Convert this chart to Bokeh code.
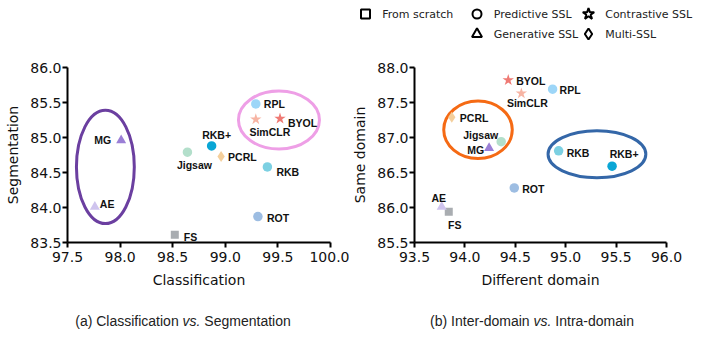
from bokeh.plotting import figure
from bokeh.models import (ColumnDataSource, Range1d, SingleIntervalTicker,
                          NumeralTickFormatter, Div)
from bokeh.layouts import column, row
from bokeh.core.properties import value
from bokeh.embed import file_html
from bokeh.resources import INLINE

# ---------------- data ----------------
methods = ["FS", "RPL", "SimCLR", "BYOL", "RKB+", "Jigsaw", "PCRL", "RKB", "ROT", "MG", "AE"]
categories = ["From scratch", "Predictive SSL", "Contrastive SSL", "Contrastive SSL",
              "Predictive SSL", "Predictive SSL", "Multi-SSL", "Predictive SSL",
              "Predictive SSL", "Generative SSL", "Generative SSL"]
classification = [98.52, 99.29, 99.29, 99.52, 98.87, 98.64, 98.96, 99.40, 99.31, 98.01, 97.76]
segmentation = [83.61, 85.48, 85.26, 85.27, 84.88, 84.79, 84.73, 84.58, 83.87, 84.96, 84.01]
different_domain = [93.84, 94.87, 94.56, 94.43, 95.46, 94.36, 93.87, 94.93, 94.49, 94.24, 93.77]
same_domain = [85.94, 87.69, 87.63, 87.82, 86.59, 86.94, 87.29, 86.81, 86.28, 86.85, 86.01]

legend_labels = ["From scratch", "Predictive SSL", "Contrastive SSL", "Generative SSL", "Multi-SSL"]

# highlight ellipses (centre, width, height in data units)
ell_a_x = [97.86, 99.51]
ell_a_y = [84.58, 85.25]
ell_a_w = [0.55, 0.77]
ell_a_h = [1.62, 0.83]
ell_b_x = [94.13, 95.31]
ell_b_y = [87.11, 86.76]
ell_b_w = [0.68, 0.97]
ell_b_h = [0.82, 0.67]

# ---------------- styles ----------------
method_colors = ["#a9adb1", "#9dd6f8", "#f7b4a3", "#ef7a74", "#0aa6d5", "#b3dfcb",
                 "#f4cf9c", "#7cd0e2", "#9dbde2", "#9b7fd6", "#cfc4ee"]
cat_marker = {"From scratch": "square", "Predictive SSL": "circle",
              "Contrastive SSL": "star", "Generative SSL": "triangle",
              "Multi-SSL": "diamond"}
marker_size = {"square": 8, "circle": 9.5, "star": 12, "triangle": 10, "diamond": 11}
ell_a_colors = ["#6b3fa0", "#ee9fe6"]
ell_b_colors = ["#f56a14", "#3467a8"]

# label placement (align, dx, dy) per method
lab_a = [("left", 9, 2), ("left", 8, 0), ("center", 14, 13), ("left", 8, 4),
         ("center", 5, -11), ("center", 7, 13), ("left", 7, 1), ("left", 9, 5),
         ("left", 9, 1), ("right", -10, 0), ("left", 5, -3)]
lab_b = [("center", 6, 13), ("left", 7, 1), ("center", 6, 10), ("left", 8, 1),
         ("center", 12, -12), ("right", -3, -7), ("left", 8, 1), ("left", 8, 2),
         ("left", 8, 1), ("right", -5, 2), ("center", -3, -9)]

TICK_FONT = "DejaVu Sans"
LAB_FONT = "Liberation Sans"
markers = [cat_marker[c] for c in categories]
sizes = [marker_size[m] for m in markers]


def make_plot(xs, ys, xr, yr, xlabel, ylabel, ex, ey, ew, eh, ecol, labs,
              width, bl, br):
    p = figure(width=width, height=252, output_backend="svg", toolbar_location=None,
               x_range=Range1d(*xr), y_range=Range1d(*yr),
               min_border_left=bl, min_border_right=br, min_border_top=19,
               min_border_bottom=58)
    p.outline_line_color = None
    p.grid.visible = False
    p.background_fill_color = "white"
    p.border_fill_color = "white"
    for ax in (p.xaxis[0], p.yaxis[0]):
        ax.ticker = SingleIntervalTicker(interval=0.5)
        ax.formatter = NumeralTickFormatter(format="0.0")
        ax.axis_line_width = 2
        ax.axis_line_color = "black"
        ax.major_tick_line_width = 2
        ax.major_tick_line_color = "black"
        ax.major_tick_out = 5
        ax.major_tick_in = 0
        ax.minor_tick_line_color = None
        ax.major_label_text_font = TICK_FONT
        ax.major_label_text_font_size = "14px"
        ax.major_label_text_color = "#111"
        ax.axis_label_text_font = TICK_FONT
        ax.axis_label_text_font_size = "14px"
        ax.axis_label_text_font_style = "normal"
        ax.axis_label_text_color = "#111"
    p.xaxis.axis_label = xlabel
    p.yaxis.axis_label = ylabel
    p.xaxis.major_label_standoff = 4
    p.xaxis.axis_label_standoff = 7
    p.yaxis.major_label_standoff = 1
    p.yaxis.axis_label_standoff = 6

    esrc = ColumnDataSource(dict(x=ex, y=ey, w=ew, h=eh, c=ecol))
    p.ellipse(x="x", y="y", width="w", height="h", source=esrc,
              fill_color=None, line_color="c", line_width=3)

    src = ColumnDataSource(dict(x=xs, y=ys, m=markers, s=sizes, c=method_colors,
                                name=methods,
                                align=[l[0] for l in labs],
                                dx=[l[1] for l in labs],
                                dy=[l[2] for l in labs]))
    p.scatter(x="x", y="y", marker="m", size="s", fill_color="c",
              line_color=None, source=src)
    p.text(x="x", y="y", text="name", x_offset="dx", y_offset="dy",
           text_align="align", text_baseline="middle", source=src,
           text_font=value(LAB_FONT), text_font_style="bold",
           text_font_size="10.5px", text_color="#111")
    return p


p1 = make_plot(classification, segmentation, (97.5, 100.0), (83.5, 86.0),
               "Classification", "Segmentation",
               ell_a_x, ell_a_y, ell_a_w, ell_a_h, ell_a_colors, lab_a,
               349, 67, 19)
p2 = make_plot(different_domain, same_domain, (93.5, 96.0), (85.5, 88.0),
               "Different domain", "Same domain",
               ell_b_x, ell_b_y, ell_b_w, ell_b_h, ell_b_colors, lab_b,
               357, 54, 40)

# ---------------- legend strip ----------------
leg = figure(width=706, height=48, output_backend="svg", toolbar_location=None,
             x_range=Range1d(0, 706), y_range=Range1d(48, 0),
             x_axis_location=None, y_axis_location=None,
             min_border=0)
leg.outline_line_color = None
leg.grid.visible = False
leg_col = {"From scratch": 0, "Predictive SSL": 1, "Contrastive SSL": 2,
           "Generative SSL": 1, "Multi-SSL": 2}
leg_row = {"From scratch": 0, "Predictive SSL": 0, "Contrastive SSL": 0,
           "Generative SSL": 1, "Multi-SSL": 1}
lx = [365 + 111.5 * leg_col[l] for l in legend_labels]
ly = [13.5 + 20 * leg_row[l] for l in legend_labels]
lm = [cat_marker[l] for l in legend_labels]
lsz = {"square": 9, "circle": 9, "star": 12, "triangle": 10, "diamond": 11}
lsrc = ColumnDataSource(dict(x=lx, y=ly, m=lm, s=[lsz[m] for m in lm],
                             tx=[x + 16.7 for x in lx], label=legend_labels))
leg.scatter(x="x", y="y", marker="m", size="s", fill_color="white",
            line_color="black", line_width=2, source=lsrc)
leg.text(x="tx", y="y", text="label", text_align="left", text_baseline="middle",
         text_font=value(TICK_FONT), text_font_size="11px", text_color="#222",
         source=lsrc)

# ---------------- captions ----------------
cap_style = {"font-family": "'Liberation Sans', Arial, sans-serif", "font-size": "14px",
             "color": "#222", "text-align": "center", "width": "100%",
             "padding-top": "8px", "line-height": "16px"}
d1 = Div(text="(a) Classification <i>vs.</i> Segmentation", width=349, height=46,
         styles=dict(cap_style, **{"padding-left": "7px"}))
d2 = Div(text="(b) Inter-domain <i>vs.</i> Intra-domain", width=357, height=46,
         styles=dict(cap_style, **{"padding-right": "21px"}))

layout = column(leg, row(p1, p2), row(d1, d2))
open("out.html", "w").write(file_html(layout, INLINE))
